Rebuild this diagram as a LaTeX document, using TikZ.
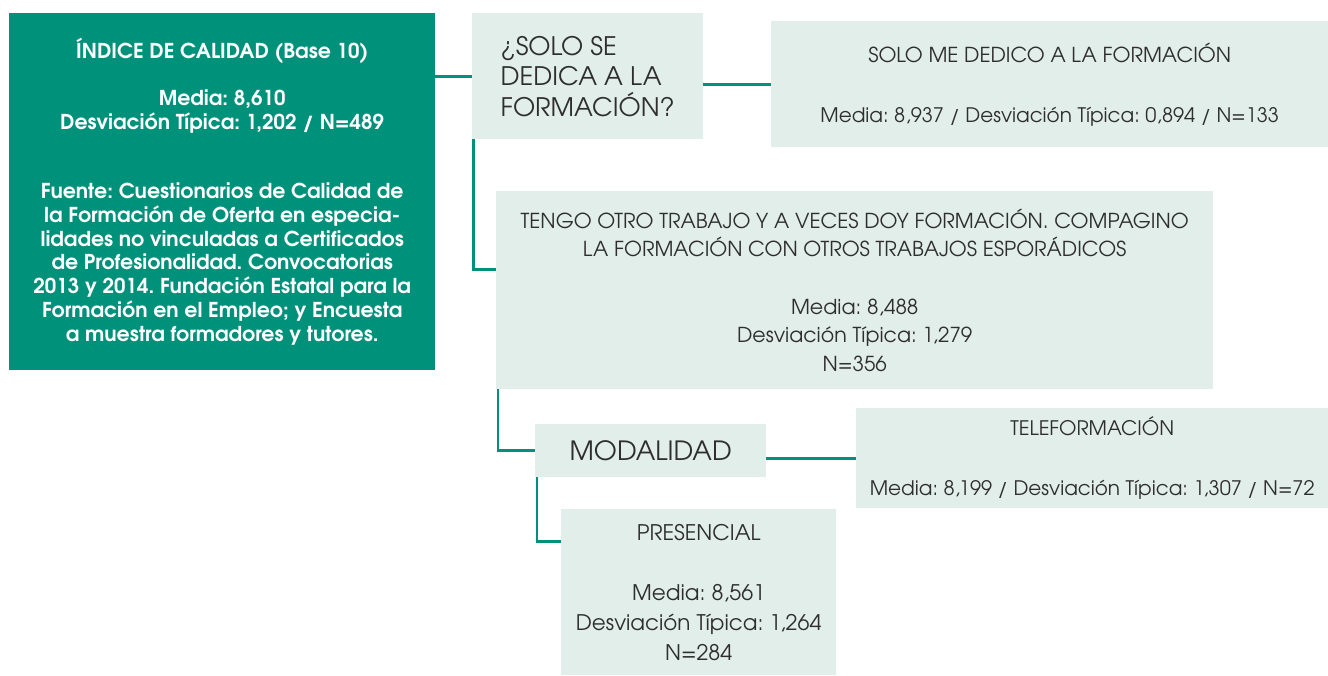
\documentclass[tikz,border=0pt]{standalone}
\usepackage{fontspec}
\setmainfont{TeX Gyre Adventor}
\usepackage{tikz}
\usepackage{xcolor}
\frenchspacing

\definecolor{calgreen}{HTML}{00917A}
\definecolor{boxfill}{HTML}{E2EEEA}
\definecolor{txtgray}{HTML}{2E2E2E}

\begin{document}
\begin{tikzpicture}[x=1pt, y=-1pt,
    box/.style={inner sep=0pt, anchor=north west, align=center, text=txtgray, fill=boxfill,
        font=\fontsize{20}{30}\selectfont},
    link/.style={draw=calgreen, line width=2.6pt}]
    \useasboundingbox (0,0) rectangle (1328,675);

    % index box
    \node[box, fill=calgreen, text=white, font=\bfseries\fontsize{20.5}{23.8}\selectfont,
        minimum width=426pt, minimum height=357pt] (idx) at (9,13)
        {ÍNDICE DE CALIDAD (Base 10)\\[23.5pt]
         Media: 8,610\\
         Desviación Típica: 1,202 / N=489\\[45pt]
         Fuente: Cuestionarios de Calidad de\\
         la Formación de Oferta en especia-\\
         lidades no vinculadas a Certificados\\
         de Profesionalidad. Convocatorias\\
         2013 y 2014. Fundación Estatal para la\\
         Formación en el Empleo; y Encuesta\\
         a muestra formadores y tutores.};

    % first split
    \node[box, align=left, font=\fontsize{25.5}{30.5}\selectfont,
        minimum width=231pt, minimum height=126pt] (q) at (472,13)
        {¿SOLO SE\\DEDICA A LA\\FORMACIÓN?};
    \node[box, minimum width=557pt, minimum height=126pt] (solo) at (771,21)
        {{\fontsize{20.6}{30}\selectfont SOLO ME DEDICO A LA FORMACIÓN}\\[30pt]
         Media: 8,937 / Desviación Típica: 0,894 / N=133};
    \node[box, font=\fontsize{20.6}{28.5}\selectfont,
        minimum width=717pt, minimum height=198pt] (otro) at (496,191)
        {TENGO OTRO TRABAJO Y A VECES DOY FORMACIÓN. COMPAGINO\\
         LA FORMACIÓN CON OTROS TRABAJOS ESPORÁDICOS\\[29pt]
         Media: 8,488\\
         Desviación Típica: 1,279\\
         N=356};

    % second split
    \node[box, font=\fontsize{26.5}{30}\selectfont,
        minimum width=231pt, minimum height=53pt] (modal) at (535,424)
        {MODALIDAD};
    \node[box, minimum width=472pt, minimum height=100pt] (tele) at (856,408)
        {TELEFORMACIÓN\\[30pt]
         Media: 8,199 / Desviación Típica: 1,307 / N=72};
    \node[box, font=\fontsize{21.5}{30}\selectfont,
        minimum width=275pt, minimum height=166pt] (pres) at (561,509)
        {PRESENCIAL\\[30pt]
         Media: 8,561\\
         Desviación Típica: 1,264\\
         N=284};

    % connections
    \draw[link] (q.west -| idx.east) -- (q.west);
    \draw[link] (solo.west -| q.east) -- (solo.west);
    \draw[link] ([xshift=1.5pt]q.south west) |- ([yshift=21pt]otro.west);
    \draw[link] ([xshift=2pt]otro.south west) |- (modal.west);
    \draw[link] (tele.west -| modal.east) -- (tele.west);
    \draw[link] ([xshift=2pt]modal.south west) |- ([yshift=51pt]pres.west);
\end{tikzpicture}
\end{document}
